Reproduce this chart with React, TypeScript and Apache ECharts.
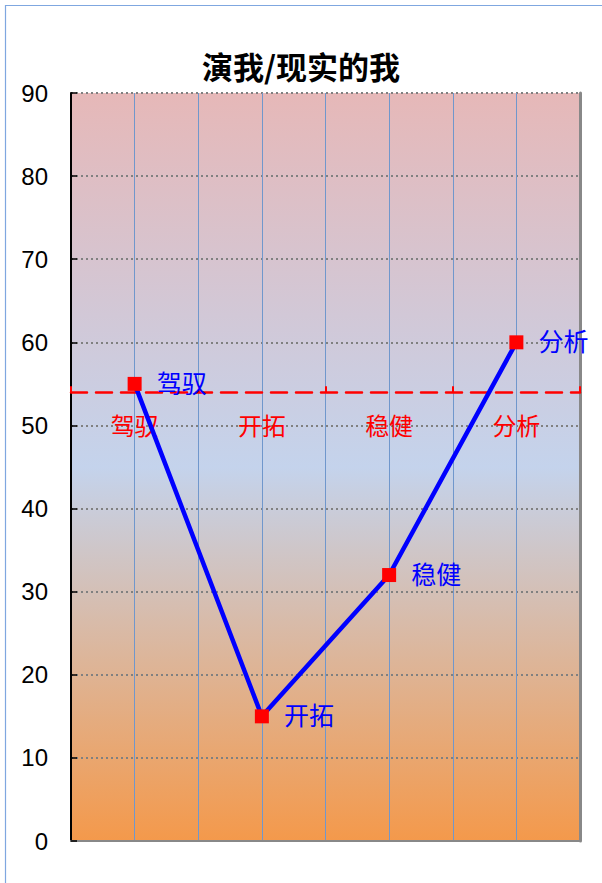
import React, { useEffect, useRef } from "react";
import * as echarts from "echarts";

const title = "演我/现实的我";
const categories = ["驾驭", "开拓", "稳健", "分析"];
const values = [55, 15, 32, 60];
const refLevel = 54;
const yMin = 0;
const yMax = 90;
const yInterval = 10;

const FONT = "'Liberation Sans', 'Noto Sans CJK SC', sans-serif";

export default function App() {
  const ref = useRef<HTMLDivElement>(null);
  useEffect(() => {
    if (!ref.current) return;
    const chart = echarts.init(ref.current, undefined, { renderer: "svg" });
    const gridLeft = 71;
    const gridRight = 22;
    const gridTop = 93;
    const gridBottom = 42;
    const plotH = 883 - gridTop - gridBottom;
    const refY = gridTop + plotH * (1 - (refLevel - yMin) / (yMax - yMin));
    chart.setOption({
      animation: false,
      backgroundColor: "#ffffff",
      textStyle: { fontFamily: FONT },
      title: {
        text: title,
        left: "center",
        top: 45,
        textStyle: { fontSize: 31, fontWeight: "bold", color: "#000", fontFamily: "'Noto Sans CJK SC', sans-serif" },
      },
      graphic: [
        {
          type: "rect",
          shape: { x: 5.5, y: 5.5, width: 800, height: 1000 },
          style: { fill: "none", stroke: "#7FA7E0", lineWidth: 1.2 },
          silent: true,
          z: 100,
        },
      ],
      grid: [
        {
          left: gridLeft,
          right: gridRight,
          top: gridTop,
          bottom: gridBottom,
          show: true,
          borderWidth: 0,
          backgroundColor: {
            type: "linear",
            x: 0,
            y: 0,
            x2: 0,
            y2: 1,
            colorStops: [
              { offset: 0, color: "#E6B8B8" },
              { offset: 0.5, color: "#C4D3EC" },
              { offset: 1, color: "#F4994B" },
            ],
          },
        },
        {
          left: gridLeft,
          right: gridRight,
          top: gridTop,
          height: refY - gridTop,
          show: false,
        },
      ],
      xAxis: [
        {
          type: "category",
          gridIndex: 0,
          data: categories,
          boundaryGap: true,
          axisLine: { show: true, lineStyle: { color: "#888", width: 2 } },
          axisTick: { show: false },
          axisLabel: { show: false },
          splitLine: { show: false },
        },
        {
          type: "value",
          gridIndex: 0,
          min: 0,
          max: categories.length * 2,
          interval: 1,
          position: "top",
          axisLine: { show: false },
          axisTick: { show: false },
          axisLabel: { show: false },
          splitLine: { show: true, lineStyle: { color: "#7097CC", width: 1 } },
        },
        {
          type: "category",
          gridIndex: 1,
          data: categories,
          boundaryGap: true,
          position: "bottom",
          axisLine: { show: true, lineStyle: { color: "#FF0000", width: 2.5, type: [16, 9] } },
          axisTick: { show: true, inside: true, length: 6, alignWithLabel: false, interval: 0, lineStyle: { color: "#FF0000", width: 2, type: "solid" } },
          axisLabel: { show: true, color: "#FF0000", fontSize: 24, margin: 22 },
          splitLine: { show: false },
          z: 5,
        },
      ],
      yAxis: [
        {
          type: "value",
          gridIndex: 0,
          min: yMin,
          max: yMax,
          interval: yInterval,
          axisLine: { show: true, lineStyle: { color: "#000", width: 2 } },
          axisTick: { show: true, inside: true, length: 6, lineStyle: { color: "#000", width: 1.5 } },
          axisLabel: { color: "#000", fontSize: 24, margin: 23 },
          splitLine: { show: true, lineStyle: { color: "#808080", width: 2, type: [2, 3] } },
        },
        {
          type: "value",
          gridIndex: 0,
          min: yMin,
          max: yMax,
          interval: yInterval,
          position: "right",
          axisLine: { show: true, lineStyle: { color: "#888", width: 3 } },
          axisTick: { show: false },
          axisLabel: { show: false },
          splitLine: { show: false },
        },
        {
          type: "value",
          gridIndex: 1,
          show: false,
        },
      ],
      series: [
        {
          type: "line",
          xAxisIndex: 0,
          yAxisIndex: 0,
          data: values,
          symbol: "rect",
          symbolSize: 14,
          lineStyle: { color: "#0000FF", width: 4.5 },
          itemStyle: { color: "#FF0000" },
          label: {
            show: true,
            position: "right",
            distance: 15,
            color: "#0000FF",
            fontSize: 25,
            formatter: (p: any) => categories[p.dataIndex],
          },
          z: 10,
        },
      ],
    });
    return () => chart.dispose();
  }, []);
  return (
    <div
      ref={ref}
      style={{ position: "fixed", left: 0, top: 0, width: 602, height: 883 }}
    />
  );
}
